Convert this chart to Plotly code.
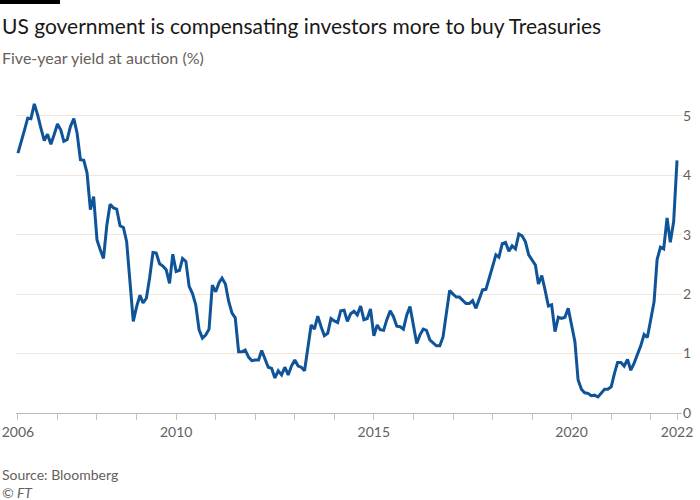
import plotly.graph_objects as go
import pandas as pd

# Monthly five-year Treasury auction yields (%), Jan 2006 - Sep 2022
start_month = "2006-01-01"
yields = [
    4.37, 4.55, 4.75, 4.96, 4.95, 5.20, 5.02, 4.79, 4.58, 4.69, 4.52, 4.68,
    4.86, 4.76, 4.57, 4.60, 4.82, 4.95, 4.71, 4.26, 4.25, 4.04, 3.42, 3.64,
    2.91, 2.74, 2.60, 3.16, 3.51, 3.45, 3.43, 3.15, 3.12, 2.88, 2.20, 1.54,
    1.79, 1.98, 1.85, 1.93, 2.27, 2.70, 2.69, 2.51, 2.47, 2.41, 2.18, 2.67,
    2.38, 2.40, 2.60, 2.55, 2.13, 2.01, 1.82, 1.40, 1.26, 1.31, 1.41, 2.15,
    2.04, 2.19, 2.27, 2.17, 1.88, 1.68, 1.60, 1.03, 1.03, 1.06, 0.94, 0.88,
    0.89, 0.89, 1.05, 0.89, 0.77, 0.75, 0.59, 0.71, 0.64, 0.77, 0.64, 0.79,
    0.89, 0.79, 0.77, 0.71, 1.09, 1.48, 1.41, 1.63, 1.45, 1.30, 1.34, 1.59,
    1.55, 1.52, 1.72, 1.73, 1.54, 1.67, 1.71, 1.65, 1.80, 1.57, 1.59, 1.75,
    1.30, 1.48, 1.40, 1.39, 1.57, 1.72, 1.62, 1.46, 1.45, 1.41, 1.65, 1.79,
    1.48, 1.17, 1.31, 1.41, 1.39, 1.23, 1.18, 1.13, 1.13, 1.28, 1.68, 2.06,
    2.00, 1.95, 1.95, 1.89, 1.84, 1.84, 1.89, 1.76, 1.93, 2.07, 2.08, 2.25,
    2.46, 2.66, 2.62, 2.85, 2.87, 2.72, 2.81, 2.76, 3.01, 2.98, 2.88, 2.66,
    2.58, 2.49, 2.17, 2.31, 2.07, 1.80, 1.82, 1.37, 1.61, 1.59, 1.61, 1.76,
    1.48, 1.20, 0.56, 0.40, 0.34, 0.33, 0.29, 0.30, 0.27, 0.34, 0.40, 0.40,
    0.44, 0.67, 0.85, 0.85, 0.79, 0.90, 0.72, 0.84, 0.98, 1.13, 1.32, 1.27,
    1.57, 1.87, 2.58, 2.79, 2.76, 3.28, 2.87, 3.22, 4.25,
]
dates = pd.date_range(start_month, periods=len(yields), freq="MS")

x_tick_dates = ["2006-01-01", "2010-01-01", "2015-01-01", "2020-01-01", str(dates[-1].date())]
x_tick_labels = ["2006", "2010", "2015", "2020", "2022"]
y_tick_vals = [0, 1, 2, 3, 4, 5]
y_tick_labels = ["0", "1", "2", "3", "4", "5"]

title_text = "US government is compensating investors more to buy Treasuries"
subtitle_text = "Five-year yield at auction (%)"
source_text = "Source: Bloomberg"
credit_text = "© FT"

FONT = "Lato, 'Noto Sans', sans-serif"
GREY = "#66605c"

# plot area in pixels
L, R, T, B = 16, 18, 86, 87
PW, PH = 700 - L - R, 500 - T - B


def px_x(px):
    return (px - L) / PW


def px_y(py):
    return (500 - B - py) / PH


fig = go.Figure()
fig.add_trace(go.Scatter(
    x=dates, y=yields, mode="lines",
    line=dict(color="#0f5499", width=3),
    hoverinfo="skip", showlegend=False,
))

fig.update_layout(
    template="none",
    width=700, height=500,
    margin=dict(l=L, r=R, t=T, b=B, pad=0, autoexpand=False),
    paper_bgcolor="white", plot_bgcolor="white",
    font=dict(family=FONT, color=GREY, size=14),
    xaxis=dict(
        automargin=False,
        range=["2005-12-14", "2022-10-17"],
        tickmode="array", tickvals=x_tick_dates, ticktext=x_tick_labels,
        ticks="outside", ticklen=6, tickcolor="#ccc1b7", tickwidth=1,
        minor=dict(dtick="M12", tick0="2006-01-01", ticks="outside",
                   ticklen=6, tickcolor="#ccc1b7", tickwidth=1, showgrid=False),
        showgrid=False, zeroline=False, showline=False,
        tickfont=dict(size=14, color=GREY),
    ),
    yaxis=dict(
        automargin=False,
        range=[0, 5.5], side="right",
        tickmode="array", tickvals=y_tick_vals, ticktext=y_tick_labels,
        showgrid=True, gridcolor="#f2e5da", gridwidth=1,
        zeroline=True, zerolinecolor="#c4b9af", zerolinewidth=1,
        ticks="", tickfont=dict(size=14, color=GREY),
        showline=False,
    ),
    shapes=[dict(type="rect", xref="paper", yref="paper",
                 x0=px_x(0), x1=px_x(60), y0=px_y(4), y1=px_y(0),
                 fillcolor="black", line=dict(width=0))],
    annotations=[
        dict(text=title_text, xref="paper", yref="paper", x=px_x(0), y=px_y(25),
             xanchor="left", yanchor="middle", showarrow=False,
             font=dict(size=21, color="#1a1817", family=FONT)),
        dict(text=subtitle_text, xref="paper", yref="paper", x=px_x(0), y=px_y(57),
             xanchor="left", yanchor="middle", showarrow=False,
             font=dict(size=16, color=GREY, family=FONT)),
        dict(text=source_text, xref="paper", yref="paper", x=px_x(0), y=px_y(474),
             xanchor="left", yanchor="middle", showarrow=False,
             font=dict(size=14, color=GREY, family=FONT)),
        dict(text="<i>" + credit_text + "</i>", xref="paper", yref="paper", x=px_x(0),
             y=px_y(492), xanchor="left", yanchor="middle", showarrow=False,
             font=dict(size=14, color=GREY, family=FONT)),
    ],
)

fig.write_html(
    "out.html",
    config={"displayModeBar": False},
    post_script="document.body.style.margin='0';document.body.style.overflow='hidden';",
)
